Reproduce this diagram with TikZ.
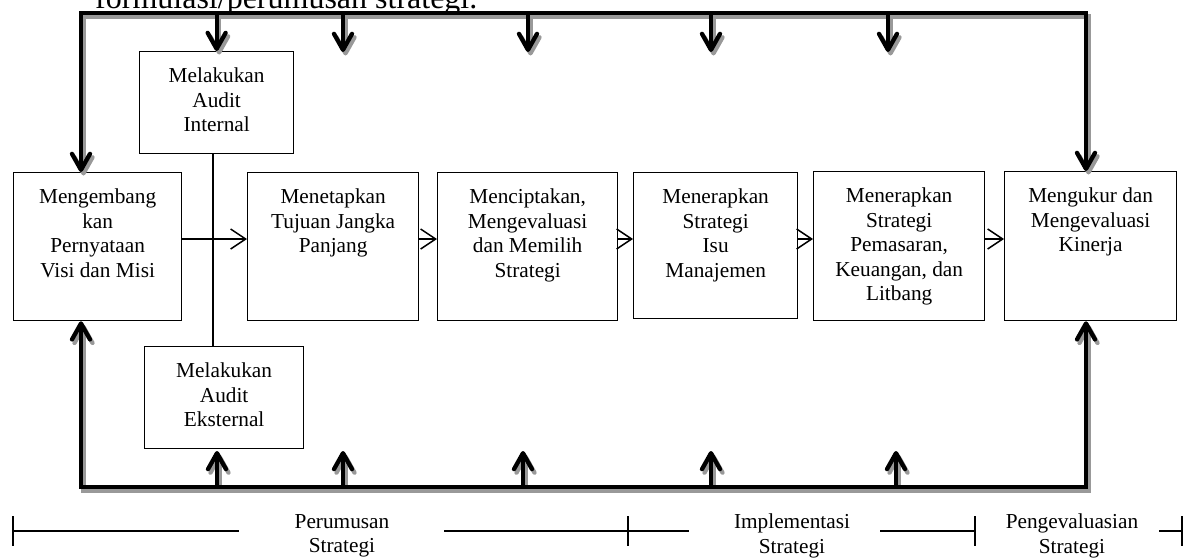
\documentclass[tikz,border=0pt]{standalone}
\usepackage{fontspec}
\setmainfont{Liberation Serif}
\usetikzlibrary{arrows.meta}
\newcommand{\boxtext}[3]{\parbox[t][#2][t]{#1}{\centering\vspace*{16.5pt}#3}}
\tikzset{
  stepbox/.style={draw, line width=1.3pt, anchor=north west, inner sep=0pt},
  thinline/.style={line width=1.3pt},
  thinarrow/.style={line width=1.5pt, -{Straight Barb[length=15pt,width=20pt]}},
  fbline/.style={line width=4.3pt, black},
  fbshade/.style={line width=4.3pt, black!40, transform canvas={xshift=2.5pt,yshift=-3.5pt}},
  fbtip/.style={-{Straight Barb[length=16pt,width=18pt,round]}},
  fbtips/.style={{Straight Barb[length=16pt,width=18pt,round]}-{Straight Barb[length=16pt,width=18pt,round]}},
  tline/.style={line width=1.2pt},
  phase/.style={anchor=north, align=center, inner sep=0pt}
}
\begin{document}
\begin{tikzpicture}[x=1pt,y=-1pt,font=\fontsize{21.3}{24.5}\selectfont]
\clip (0,0) rectangle (1185,557);
% text line of the page above the chart
\node[anchor=base west,inner sep=0pt,font=\fontsize{32}{38}\selectfont] (doc) at (95,8) {formulasi/perumusan strategi.};
% boxes
\node[stepbox] (ia) at (139,51) {\boxtext{154pt}{102pt}{Melakukan\\Audit\\Internal}};
\node[stepbox] (ea) at (144,346) {\boxtext{159pt}{102pt}{Melakukan\\Audit\\Eksternal}};
\node[stepbox] (b1) at (13,172) {\boxtext{168pt}{148pt}{Mengembang\\kan\\Pernyataan\\Visi dan Misi}};
\node[stepbox] (b2) at (247,172) {\boxtext{171pt}{148pt}{Menetapkan\\Tujuan Jangka\\Panjang}};
\node[stepbox] (b3) at (437,172) {\boxtext{180pt}{148pt}{Menciptakan,\\Mengevaluasi\\dan Memilih\\Strategi}};
\node[stepbox] (b4) at (633,172) {\boxtext{164pt}{146pt}{Menerapkan\\Strategi\\Isu\\Manajemen}};
\node[stepbox] (b5) at (813,171) {\boxtext{171pt}{149pt}{Menerapkan\\Strategi\\Pemasaran,\\Keuangan, dan\\Litbang}};
\node[stepbox] (b6) at (1004,171) {\boxtext{172pt}{149pt}{Mengukur dan\\Mengevaluasi\\Kinerja}};
% thin connectors
\coordinate (ay) at (0,239);
\coordinate (jn) at (213,0);
\draw[thinline] (ia.south -| jn) -- (ea.north -| jn);
\draw[thinarrow] (b1.east |- ay) -- (b2.west |- ay);
\foreach \a/\b in {b2/b3,b3/b4,b4/b5,b5/b6} \draw[thinarrow] (\a.east |- ay) -- (\b.west |- ay);
% feedback loop, shadow first
\coordinate (tl) at (81,13); \coordinate (tr) at (1086,13);
\coordinate (bl) at (81,487); \coordinate (br) at (1086,487);
\foreach \sty in {fbshade,fbline}{
  \draw[\sty,fbtips] (tl |- b1.north) -- (tl) -- (tr) -- (tr |- b6.north);
  \draw[\sty,fbtips] (bl |- b1.south) -- (bl) -- (br) -- (br |- b6.south);
  \draw[\sty,fbtip] (tl -| ia.north) -- (ia.north);
  \foreach \x in {343,528,711,888} \draw[\sty,fbtip] (\x,0 |- tl) -- ++(0,39);
  \foreach \x in {217,343,523,711,896} \draw[\sty,fbtip] (\x,0 |- bl) -- ++(0,-36);
}
% phases
\coordinate (k0) at (13,531); \coordinate (k1) at (628,531);
\coordinate (k2) at (975,531); \coordinate (k3) at (1182,531);
\draw[tline] (k0) -- +(226,0) (k1) +(-184,0) -- +(61,0) (k2) -- +(-95,0) (k3) -- +(-23,0);
\foreach \k in {k0,k1,k2,k3} \draw[tline] (\k) +(0,-15) -- +(0,15);
\node[phase] (ph1) at (342,514) {Perumusan\\Strategi};
\node[phase] (ph2) at (792,514) {Implementasi\\Strategi};
\node[phase] (ph3) at (1072,514) {Pengevaluasian\\Strategi};
\end{tikzpicture}
\end{document}
